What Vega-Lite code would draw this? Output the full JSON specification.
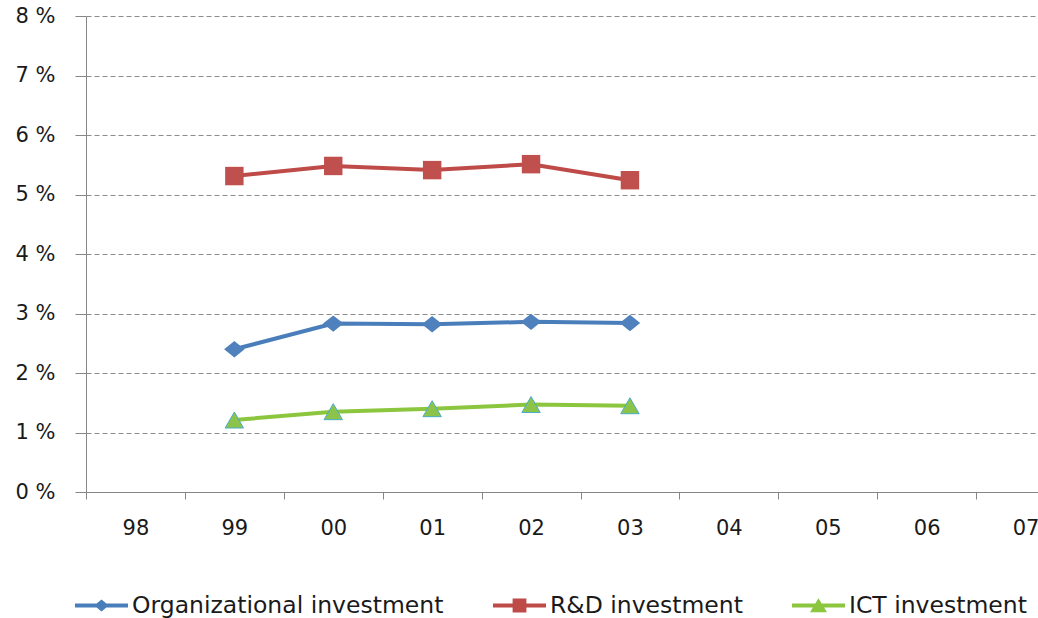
{
  "$schema": "https://vega.github.io/schema/vega-lite/v6.json",
  "width": 952,
  "height": 476,
  "autosize": {"type": "none"},
  "padding": {"left": 86, "top": 16, "right": 0, "bottom": 126},
  "background": "white",
  "config": {"view": {"stroke": null}, "font": "DejaVu Sans"},
  "data": {
    "values": [
      {"series": "Organizational investment", "year": "99", "value": 2.40},
      {"series": "Organizational investment", "year": "00", "value": 2.83},
      {"series": "Organizational investment", "year": "01", "value": 2.82},
      {"series": "Organizational investment", "year": "02", "value": 2.86},
      {"series": "Organizational investment", "year": "03", "value": 2.84},
      {"series": "R&D investment", "year": "99", "value": 5.31},
      {"series": "R&D investment", "year": "00", "value": 5.48},
      {"series": "R&D investment", "year": "01", "value": 5.41},
      {"series": "R&D investment", "year": "02", "value": 5.51},
      {"series": "R&D investment", "year": "03", "value": 5.24},
      {"series": "ICT investment", "year": "99", "value": 1.21},
      {"series": "ICT investment", "year": "00", "value": 1.35},
      {"series": "ICT investment", "year": "01", "value": 1.40},
      {"series": "ICT investment", "year": "02", "value": 1.47},
      {"series": "ICT investment", "year": "03", "value": 1.45}
    ]
  },
  "encoding": {
    "x": {
      "field": "year",
      "type": "nominal",
      "sort": null,
      "scale": {
        "type": "band",
        "domain": ["98", "99", "00", "01", "02", "03", "04", "05", "06", "07"],
        "range": [0, 989],
        "paddingInner": 0,
        "paddingOuter": 0
      },
      "axis": {
        "title": null,
        "tickBand": "extent",
        "labelAngle": 0,
        "grid": false,
        "domainColor": "#868686",
        "tickColor": "#868686",
        "tickSize": 7,
        "labelPadding": 18,
        "labelFontSize": 21,
        "labelFont": "DejaVu Sans",
        "labelColor": "#1a1a1a"
      }
    },
    "y": {
      "field": "value",
      "type": "quantitative",
      "scale": {"domain": [0, 8], "nice": false},
      "axis": {
        "title": null,
        "values": [0, 1, 2, 3, 4, 5, 6, 7, 8],
        "labelExpr": "datum.value + ' %'",
        "tickSize": 11,
        "labelPadding": 20,
        "grid": true,
        "gridDash": [5, 3],
        "gridColor": "#8c8c8c",
        "gridWidth": 1,
        "domainColor": "#868686",
        "tickColor": "#868686",
        "labelFontSize": 21,
        "labelFont": "DejaVu Sans",
        "labelColor": "#1a1a1a"
      }
    }
  },
  "layer": [
    {
      "mark": {"type": "line", "strokeWidth": 4},
      "encoding": {
        "stroke": {
          "field": "series",
          "type": "nominal",
          "scale": {
            "domain": ["ICT investment", "Organizational investment", "R&D investment"],
            "range": ["#8CC63F", "#4A7EBB", "#BE4B48"]
          },
          "legend": null
        },
        "order": {"value": null}
      }
    },
    {
      "transform": [{"filter": "datum.series === 'Organizational investment'"}],
      "mark": {"type": "point", "filled": true, "opacity": 1, "shape": "M-1,0L0,-0.8L1,0L0,0.8Z", "size": 420, "fill": "#4F81BD", "strokeWidth": 0}
    },
    {
      "transform": [{"filter": "datum.series === 'R&D investment'"}],
      "mark": {"type": "point", "filled": true, "opacity": 1, "shape": "square", "size": 340, "fill": "#C0504D", "strokeWidth": 0}
    },
    {
      "transform": [{"filter": "datum.series === 'ICT investment'"}],
      "mark": {"type": "point", "filled": true, "opacity": 1, "shape": "triangle-up", "size": 340, "fill": "#8CC34A", "stroke": "#4BACC6", "strokeWidth": 1}
    },
    {
      "mark": {"type": "point", "filled": true, "opacity": 0},
      "encoding": {
        "color": {
          "field": "series",
          "type": "nominal",
          "scale": {
            "domain": ["Organizational investment", "R&D investment", "ICT investment"],
            "range": ["#4A7EBB", "#BE4B48", "#8CC63F"]
          },
          "legend": {
            "orient": "none",
            "legendX": -11,
            "legendY": 563,
            "direction": "horizontal",
            "title": null,
            "symbolSize": 2809,
            "symbolOpacity": 1,
            "symbolStrokeWidth": 0,
            "labelFontSize": 23.5,
            "labelFont": "DejaVu Sans",
            "labelColor": "#1a1a1a",
            "labelOffset": 4,
            "labelLimit": 500,
            "columnPadding": 49
          }
        },
        "shape": {
          "field": "series",
          "type": "nominal",
          "scale": {
            "domain": ["Organizational investment", "R&D investment", "ICT investment"],
            "range": [
              "M-1,-0.075H-0.182L0,-0.23L0.182,-0.075H1V0.075H0.182L0,0.23L-0.182,0.075H-1Z",
              "M-1,-0.075H-0.26V-0.26H0.26V-0.075H1V0.075H0.26V0.26H-0.26V0.075H-1Z",
              "M-1,-0.075H-0.12L0,-0.27L0.12,-0.075H1V0.075H0.212L0.32,0.25H-0.32L-0.212,0.075H-1Z"
            ]
          },
          "legend": {
            "orient": "none",
            "legendX": -11,
            "legendY": 563,
            "direction": "horizontal",
            "title": null,
            "symbolSize": 2809,
            "symbolOpacity": 1,
            "symbolStrokeWidth": 0,
            "labelFontSize": 23.5,
            "labelFont": "DejaVu Sans",
            "labelColor": "#1a1a1a",
            "labelOffset": 4,
            "labelLimit": 500,
            "columnPadding": 49
          }
        }
      }
    }
  ]
}
